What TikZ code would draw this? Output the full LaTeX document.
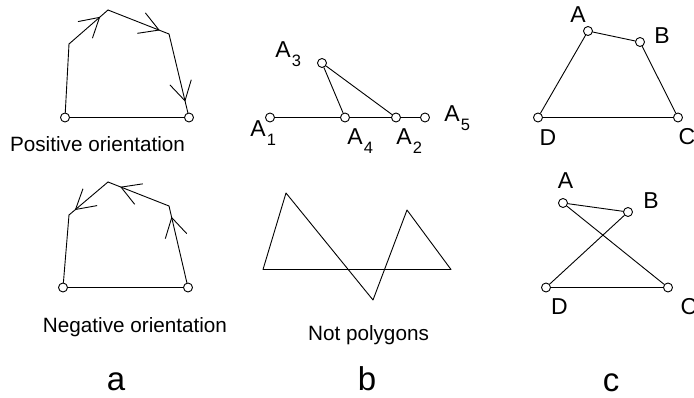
\documentclass[tikz,border=0pt]{standalone}
\usepackage{fontspec}
\setmainfont{Liberation Sans}
\usetikzlibrary{arrows.meta,decorations.markings}

\newcommand{\Asub}[1]{A\kern1pt\raisebox{-9pt}{\fontsize{16.5}{17}\selectfont #1}}

\begin{document}
\begin{tikzpicture}[
    x=1pt, y=-1pt,
    line width=0.9pt, line cap=round, line join=round,
    vtx/.style={circle, draw, fill=white, inner sep=0pt, minimum size=9pt},
    lbl/.style={inner sep=0pt, font=\fontsize{23}{27}\selectfont},
    captxt/.style={inner sep=0pt, anchor=base, font=\fontsize{20.7}{25}\selectfont},
    big/.style={inner sep=0pt, anchor=base, font=\fontsize{33}{40}\selectfont},
    midarr/.style={postaction={decorate}, decoration={markings,
        mark=at position #1 with {\arrow{Straight Barb[length=19pt,width=22pt]}}}}
]
\useasboundingbox (0,0) rectangle (694,398);

\node[vtx] (pbl) at (65,117.5) {};
\node[vtx] (pbr) at (189,117.5) {};
\coordinate (pl) at (69,44);
\coordinate (pt) at (108,10);
\coordinate (pr) at (169,34);
\draw (pbl) -- (pl);
\draw[midarr=0.8] (pl) -- (pt);
\draw[midarr=0.85] (pt) -- (pr);
\draw[midarr=0.86] (pr) -- (pbr);
\draw (pbr) -- (pbl);
\node[captxt] (tpos) at (97.5,152) {Positive orientation};

\node[vtx] (nbl) at (63,287.5) {};
\node[vtx] (nbr) at (188,287.5) {};
\coordinate (nl) at (69,215);
\coordinate (nt) at (108,182);
\coordinate (nr) at (169,206);
\draw (nbl) -- (nl);
\draw[midarr=0.85] (nt) -- (nl);
\draw[midarr=0.8] (nr) -- (nt);
\draw[midarr=0.86] (nbr) -- (nr);
\draw (nbr) -- (nbl);
\node[captxt] (tneg) at (135,332) {Negative orientation};
\node[big] (ta) at (116,390) {a};

\node[vtx] (a1) at (270,117.5) {};
\node[vtx] (a4) at (345,117.5) {};
\node[vtx] (a2) at (396,117.5) {};
\node[vtx] (a5) at (425,117.5) {};
\node[vtx] (a3) at (322,63) {};
\draw (a1) -- (a4) -- (a2) -- (a5);
\draw (a3) -- (a4);
\draw (a3) -- (a2);
\node[lbl, anchor=base west] (la1) at (250,137) {\Asub{1}};
\node[lbl, anchor=base west] (la4) at (347,145) {\Asub{4}};
\node[lbl, anchor=base west] (la2) at (396,145) {\Asub{2}};
\node[lbl, anchor=base west] (la5) at (444,122) {\Asub{5}};
\node[lbl, anchor=base west] (la3) at (275,58) {\Asub{3}};

\coordinate (z1) at (263,269.5);
\coordinate (z2) at (286,193);
\coordinate (z3) at (373,300);
\coordinate (z4) at (407,210);
\coordinate (z5) at (451,269.5);
\draw (z1) -- (z2) -- (z3) -- (z4) -- (z5) -- cycle;
\node[captxt] (tnot) at (368.5,341) {Not polygons};
\node[big] (tb) at (367,390) {b};

\node[vtx] (ca) at (588,31) {};
\node[vtx] (cb) at (640,42) {};
\node[vtx] (cc) at (678,117.5) {};
\node[vtx] (cd) at (538,117.5) {};
\draw (ca) -- (cb) -- (cc) -- (cd) -- (ca);
\node[lbl] (lca) at (578,14.5) {A};
\node[lbl] (lcb) at (662,35.5) {B};
\node[lbl] (lcd) at (548,138) {D};
\node[lbl] (lcc) at (687,137) {C};

\node[vtx] (xa) at (563,203) {};
\node[vtx] (xb) at (628,212) {};
\node[vtx] (xd) at (546,287.5) {};
\node[vtx] (xc) at (668,287.5) {};
\draw (xa) -- (xb) -- (xd) -- (xc) -- (xa);
\node[lbl] (lxa) at (565.5,181) {A};
\node[lbl] (lxb) at (651,201) {B};
\node[lbl] (lxd) at (559.5,306.5) {D};
\node[lbl] (lxc) at (689,306.5) {C};
\node[big] (tc) at (611,391) {c};
\end{tikzpicture}
\end{document}
